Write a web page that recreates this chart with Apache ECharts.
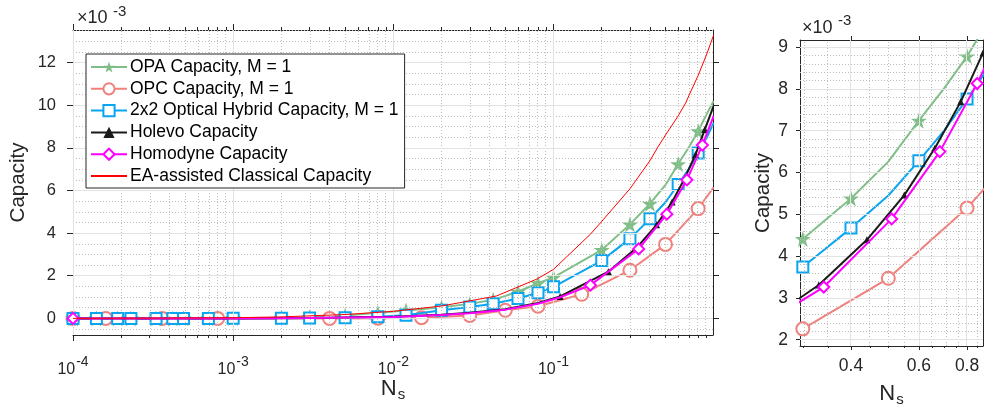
<!DOCTYPE html>
<html><head><meta charset="utf-8">
<script src="https://cdn.jsdelivr.net/npm/echarts@6/dist/echarts.min.js"></script>
<style>html,body{margin:0;padding:0;background:#fff}#c{width:984px;height:412px}</style>
</head><body><div id="c"></div>
<script>
// ---------- data (capacity values in units of 1e-3) ----------
const opaNs  = [1e-4,1.4e-4,1.9e-4,2.3e-4,3.3e-4,4.2e-4,4.9e-4,7e-4,1e-3,2e-3,3e-3,5e-3,8e-3,1.2e-2,2e-2,3e-2,4.2e-2,6e-2,8e-2,0.1,0.2,0.3,0.4,0.5,0.6,0.7,0.8,0.9,1.0];
const opaCap = [0,0,0,0,0,0,0.01,0.01,0.02,0.03,0.05,0.14,0.26,0.37,0.52,0.68,0.87,1.25,1.65,1.92,3.21,4.41,5.38,6.26,7.24,8.03,8.78,9.56,10.2];
const opaMark = [1e-4,1.4e-4,1.9e-4,2.3e-4,3.3e-4,4.2e-4,4.9e-4,7e-4,1e-3,2e-3,3e-3,5e-3,8e-3,1.2e-2,2e-2,3e-2,4.2e-2,6e-2,8e-2,0.1,0.2,0.3,0.4,0.6,0.8];

const opcNs  = [1e-4,1.6e-4,3.6e-4,8e-4,1e-3,2e-3,4e-3,8e-3,1.5e-2,3e-2,5e-2,8e-2,0.15,0.3,0.5,0.8,1.0];
const opcCap = [0,0,0,0,0,0,0,0.01,0.03,0.14,0.38,0.57,1.13,2.26,3.47,5.15,6.15];
const opcMark = [1e-4,1.6e-4,3.6e-4,8e-4,4e-3,8e-3,1.5e-2,3e-2,5e-2,8e-2,0.15,0.3,0.5,0.8];

const hybNs  = opaNs;
const hybCap = [0,0,0,0,0,0,0,0,0.01,0.01,0.02,0.03,0.08,0.15,0.38,0.53,0.69,0.93,1.2,1.48,2.71,3.74,4.67,5.45,6.28,7.02,7.76,8.45,9.17];
const hybMark = opaMark;

const holNs  = [1e-4,1e-3,3e-3,1e-2,2e-2,3e-2,5e-2,8e-2,0.11,0.22,0.33,0.44,0.55,0.66,0.77,0.88,1.0];
const holCap = [0,0,0.02,0.08,0.17,0.26,0.43,0.72,1.03,2.19,3.31,4.39,5.46,6.58,7.69,8.86,9.98];
const holMark = [1e-4,0.11,0.22,0.33,0.44,0.55,0.66,0.77,0.88];

const homNs  = [1e-4,1e-3,3e-3,1e-2,2e-2,3e-2,5e-2,8e-2,0.11,0.17,0.34,0.51,0.68,0.85,1.0];
const homCap = [0,0,0.02,0.07,0.16,0.24,0.41,0.69,0.99,1.56,3.26,4.89,6.5,8.13,9.5];
const homMark = [1e-4,0.17,0.34,0.51,0.68,0.85];

const eaNs  = [1e-4,1e-3,2e-3,5e-3,1e-2,2e-2,4.4e-2,7.9e-2,0.1,0.17,0.2,0.3,0.4,0.445,0.5,0.6,0.668,0.7,0.8,0.9,1.0];
const eaCap = [0,0.03,0.07,0.18,0.33,0.58,1.05,1.85,2.3,3.95,4.55,6.08,7.4,8.0,8.6,9.5,10.1,10.45,11.4,12.35,13.3];

const seriesNames = ['OPA Capacity, M = 1','OPC Capacity, M = 1','2x2 Optical Hybrid Capacity, M = 1','Holevo Capacity','Homodyne Capacity','EA-assisted Classical Capacity'];

// axis ticks
const leftXTicks = [1e-4,1e-3,1e-2,1e-1];
const leftYTicks = [0,2,4,6,8,10,12];
const rightXTicks = [0.4,0.6,0.8];
const rightYTicks = [2,3,4,5,6,7,8,9];
const leftYLim = [-0.78, 13.53];
const leftXLim = [1e-4, 0.99];
const rightXLim = [0.295, 0.88];
const rightYLim = [1.85, 9.17];

// ---------- build ----------
const L = Math.log10;
const FONT = '"Liberation Sans", Arial, Helvetica, sans-serif';
const AX = '#262626';
const MAJ = '#e3e3e3', MIN = '#bdbdbd';
const starPath = 'path://M50,0 L61.2,34.5 L97.6,34.5 L68.2,55.9 L79.4,90.5 L50,69.1 L20.6,90.5 L31.8,55.9 L2.4,34.5 L38.8,34.5 Z';

const leftXMinor = []; for (let e=-4;e<0;e++) for (let k=2;k<=9;k++){ const v=k*Math.pow(10,e); if (v<=leftXLim[1]) leftXMinor.push(v);}
const leftYMinor = []; for (let v=-0.5; v<=13.5; v+=0.5) if (Math.abs(v/2-Math.round(v/2))>1e-6) leftYMinor.push(v);
const rightXMinor = [0.3,0.35,0.45,0.5,0.55,0.65,0.7,0.75,0.85];
const rightYMinor = []; for (let v=1.8; v<=9.2; v+=0.2){ const r=Math.round(v*10)/10; if (Math.abs(r-Math.round(r))>1e-6 && r>rightYLim[0] && r<rightYLim[1]) rightYMinor.push(r);}

function mkData(ns, cap, marks){
  const out=[];
  for (let i=0;i<ns.length;i++){
    const has = marks && marks.some(m=>Math.abs(m-ns[i])/m<1e-6);
    const d = {value:[L(ns[i]), cap[i]]};
    if (!has) d.symbol='none';
    out.push(d);
  }
  return out;
}

const styles = [
  {color:'#7fbf87', symbol:starPath, size:16, lw:2},
  {color:'#f0807c', symbol:'emptyCircle', size:13, lw:2},
  {color:'#0aa5f0', symbol:'emptyRect', size:11, lw:2},
  {color:'#1a1a1a', symbol:'triangle', size:7, lw:2},
  {color:'#ff00ff', symbol:'emptyDiamond', size:11, lw:2},
  {color:'#ff0000', symbol:'none', size:0, lw:1}
];
const sets = [
  [opaNs,opaCap,opaMark],[opcNs,opcCap,opcMark],[hybNs,hybCap,hybMark],
  [holNs,holCap,holMark],[homNs,homCap,homMark],[eaNs,eaCap,null]
];

function gridSeries(xi, yi, pt, xMaj, xMin, yMaj, yMin){
  const ml = [];
  xMin.forEach(v=>ml.push({xAxis:v, lineStyle:{color:MIN, type:[1,2], width:1}}));
  yMin.forEach(v=>ml.push({yAxis:v, lineStyle:{color:MIN, type:[1,2], width:1}}));
  xMaj.forEach(v=>ml.push({xAxis:v, lineStyle:{color:MAJ, type:'solid', width:1}}));
  yMaj.forEach(v=>ml.push({yAxis:v, lineStyle:{color:MAJ, type:'solid', width:1}}));
  return {type:'line', xAxisIndex:xi, yAxisIndex:yi, data:[pt], showSymbol:false, symbol:'none',
    lineStyle:{width:0}, silent:true, z:0, animation:false,
    markLine:{silent:true, symbol:'none', animation:false, label:{show:false}, data:ml}};
}

const series = [];
series.push(gridSeries(0,0,[L(leftXLim[0]),leftYLim[0]], leftXTicks.map(L), leftXMinor.map(L), leftYTicks, leftYMinor));
series.push(gridSeries(4,2,[L(rightXLim[0]),rightYLim[0]], rightXTicks.map(L), rightXMinor.map(L), rightYTicks, rightYMinor));
[0,1].forEach(g=>{
  for (let i=0;i<6;i++){
    if (g===1 && i===5) continue; // zoomed panel has no EA curve
    const st=styles[i], s=sets[i];
    series.push({
      name: seriesNames[i], type:'line',
      xAxisIndex: g===0?0:4, yAxisIndex: g===0?0:2,
      data: mkData(s[0],s[1],s[2]),
      symbol: st.symbol, symbolSize: st.size, showAllSymbol:true,
      lineStyle:{color:st.color, width:st.lw}, itemStyle:{color:st.color, borderWidth:1.6},
      clip:true, animation:false, z: 2 + i
    });
  }
});

function supLabel(v){ const e=Math.round(v); return '{b|10}{s|'+e+'}'; }
const richX = {b:{fontSize:16, lineHeight:18, color:AX, fontFamily:FONT},
               s:{fontSize:14, lineHeight:14, color:AX, fontFamily:FONT, padding:[0,0,16,1]}};

function axCfg(grid, lim, pos, opts){
  return Object.assign({type:'value', gridIndex:grid, position:pos, min:lim[0], max:lim[1],
    axisLine:{show:true, onZero:false, lineStyle:{color:AX, width:1}},
    splitLine:{show:false}, axisLabel:{show:false}, axisTick:{show:false}}, opts);
}
const noLine = {show:false, onZero:false};
const nameRich = {n:{fontSize:22,color:AX,fontFamily:FONT}, sub:{fontSize:15,color:AX,fontFamily:FONT,padding:[12,0,0,1]}};

const option = {
  animation:false,
  backgroundColor:'#fff',
  textStyle:{fontFamily:FONT},
  grid:[
    {left:73, top:30, width:640, height:305, containLabel:false, outerBoundsMode:'none'},
    {left:800, top:40, width:183, height:306, containLabel:false, outerBoundsMode:'none'}
  ],
  xAxis:[
    axCfg(0, leftXLim.map(L), 'bottom', {
      name:'{n|N}{sub|s}', nameLocation:'middle', nameGap:40, nameMoveOverlap:false, nameTextStyle:{rich:nameRich},
      axisTick:{show:true, length:6, lineStyle:{color:AX}, customValues:leftXTicks.map(L)},
      axisLabel:{show:true, margin:26, customValues:leftXTicks.map(L), formatter:supLabel, rich:richX}
    }),
    axCfg(0, leftXLim.map(L), 'bottom', {axisLine:noLine, axisTick:{show:true, length:3, lineStyle:{color:AX}, customValues:leftXMinor.map(L)}}),
    axCfg(0, leftXLim.map(L), 'top', {axisTick:{show:true, length:6, lineStyle:{color:AX}, customValues:leftXTicks.map(L)}}),
    axCfg(0, leftXLim.map(L), 'top', {axisLine:noLine, axisTick:{show:true, length:3, lineStyle:{color:AX}, customValues:leftXMinor.map(L)}}),
    axCfg(1, rightXLim.map(L), 'bottom', {
      name:'{n|N}{sub|s}', nameLocation:'middle', nameGap:34, nameMoveOverlap:false, nameTextStyle:{rich:nameRich},
      axisTick:{show:true, length:4, lineStyle:{color:AX}, customValues:rightXTicks.map(L)},
      axisLabel:{show:true, margin:11, fontSize:17.5, color:AX, customValues:rightXTicks.map(L), formatter:v=>Math.pow(10,v).toFixed(1)}
    }),
    axCfg(1, rightXLim.map(L), 'bottom', {axisLine:noLine, axisTick:{show:true, length:2, lineStyle:{color:AX}, customValues:rightXMinor.map(L)}}),
    axCfg(1, rightXLim.map(L), 'top', {axisTick:{show:true, length:4, lineStyle:{color:AX}, customValues:rightXTicks.map(L)}})
  ],
  yAxis:[
    axCfg(0, leftYLim, 'left', {
      name:'Capacity', nameLocation:'middle', nameGap:44, nameRotate:90, nameMoveOverlap:false,
      nameTextStyle:{fontSize:20.5, color:AX, fontFamily:FONT},
      axisTick:{show:true, length:6, lineStyle:{color:AX}, customValues:leftYTicks},
      axisLabel:{show:true, margin:17, fontSize:16.5, color:AX, customValues:leftYTicks}
    }),
    axCfg(0, leftYLim, 'right', {axisTick:{show:true, length:6, lineStyle:{color:AX}, customValues:leftYTicks}}),
    axCfg(1, rightYLim, 'left', {
      name:'Capacity', nameLocation:'middle', nameGap:26, nameRotate:90, nameMoveOverlap:false,
      nameTextStyle:{fontSize:20.5, color:AX, fontFamily:FONT},
      axisTick:{show:true, length:4, lineStyle:{color:AX}, customValues:rightYTicks},
      axisLabel:{show:true, margin:12, fontSize:17.5, color:AX, customValues:rightYTicks}
    }),
    axCfg(1, rightYLim, 'right', {axisTick:{show:true, length:4, lineStyle:{color:AX}, customValues:rightYTicks}})
  ],
  legend:{
    orient:'vertical', left:86, top:54, z:50, zlevel:0,
    data: seriesNames.map((n,i)=> i===5 ? {name:n, itemStyle:{opacity:0}} : {name:n}),
    itemWidth:36, itemHeight:14, itemGap:3.8,
    backgroundColor:'#fff', borderColor:'#262626', borderWidth:1, borderRadius:0,
    padding:[4,6,3,4],
    textStyle:{fontSize:17.5, lineHeight:18, color:'#000', fontFamily:FONT, padding:[0,0,0,-2]},
    selectedMode:false
  },
  graphic:[
    {type:'text', x:77, y:18.5, style:{text:'×10', fontSize:18, fill:AX, fontFamily:FONT, verticalAlign:'middle'}},
    {type:'text', x:113, y:12, style:{text:'-3', fontSize:15, fill:AX, fontFamily:FONT, verticalAlign:'middle'}},
    {type:'text', x:802, y:28.5, style:{text:'×10', fontSize:18, fill:AX, fontFamily:FONT, verticalAlign:'middle'}},
    {type:'text', x:838, y:21, style:{text:'-3', fontSize:15, fill:AX, fontFamily:FONT, verticalAlign:'middle'}}
  ],
  series: series
};
const chart = echarts.init(document.getElementById('c'), null, {renderer:'canvas'});
chart.setOption(option);
</script></body></html>
